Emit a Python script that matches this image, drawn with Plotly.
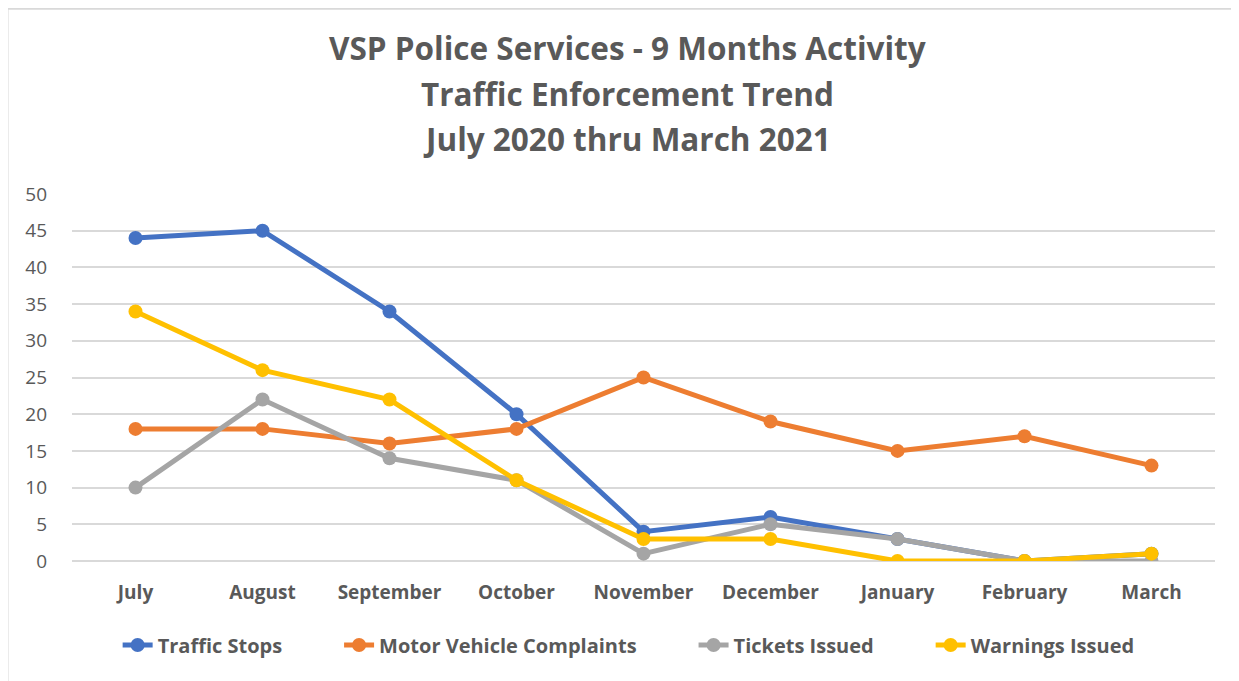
import plotly.graph_objects as go

months = ["July", "August", "September", "October", "November",
          "December", "January", "February", "March"]
traffic_stops = [44, 45, 34, 20, 4, 6, 3, 0, 1]
mv_complaints = [18, 18, 16, 18, 25, 19, 15, 17, 13]
tickets_issued = [10, 22, 14, 11, 1, 5, 3, 0, 0]
warnings_issued = [34, 26, 22, 11, 3, 3, 0, 0, 1]

title_lines = ["VSP Police Services - 9 Months Activity",
               "Traffic Enforcement Trend",
               "July 2020 thru March 2021"]

series = [
    ("Traffic Stops", traffic_stops, "#4472C4"),
    ("Motor Vehicle Complaints", mv_complaints, "#ED7D31"),
    ("Tickets Issued", tickets_issued, "#A5A5A5"),
    ("Warnings Issued", warnings_issued, "#FFC000"),
]

FONT = "Open Sans"
GREY = "#595959"
PAD = "\u00a0" * 10  # extra gap between legend entries

fig = go.Figure()
for i, (name, vals, color) in enumerate(series):
    label = f"<b>{name}</b>" + (PAD if i < len(series) - 1 else "")
    fig.add_trace(go.Scatter(
        x=months, y=vals, name=label, mode="lines+markers",
        line=dict(color=color, width=5),
        marker=dict(color=color, size=14),
    ))

# title as three stacked annotations (Excel uses wide line spacing)
annotations = []
for i, line in enumerate(title_lines):
    annotations.append(dict(
        text=f"<b>{line}</b>", xref="paper", yref="paper",
        x=0.486, xanchor="center", y=(561 - 48 - 45 * i) / 367,
        yanchor="middle", showarrow=False,
        font=dict(size=31.5, color=GREY, family=FONT),
    ))

# chart-area border: only the top and left edges fall inside the picture
border = dict(color="#D9D9D9", width=2)
shapes = [
    dict(type="line", xref="paper", yref="paper",
         x0=-0.0564, x1=1.2, y0=1.505, y1=1.505, line=border),
    dict(type="line", xref="paper", yref="paper",
         x0=-0.0564, x1=-0.0564, y0=-0.6, y1=1.505, line=border),
]

fig.update_layout(
    width=1239, height=681,
    margin=dict(l=64, r=32, t=186, b=128),
    paper_bgcolor="white", plot_bgcolor="white",
    font=dict(family=FONT, color=GREY),
    annotations=annotations,
    shapes=shapes,
    showlegend=True,
    legend=dict(
        orientation="h", x=0.487, xanchor="center", y=-0.229, yanchor="middle",
        font=dict(size=20, color=GREY, family=FONT),
        traceorder="normal",
    ),
)
fig.update_xaxes(
    range=[-0.5, 8.5], showgrid=False, showline=False, zeroline=False,
    ticks="", ticklabelstandoff=18,
    tickfont=dict(size=19, color=GREY, family=FONT),
    tickprefix="<b>", ticksuffix="</b>",
)
fig.update_yaxes(
    range=[0, 50], dtick=5, showgrid=True, gridcolor="#D9D9D9", gridwidth=1.5,
    zeroline=True, zerolinecolor="#D9D9D9", zerolinewidth=1.5,
    showline=False, ticks="", ticklabelstandoff=24,
    tickfont=dict(size=19, color=GREY, family=FONT),
)

fig.write_html("out.html")
